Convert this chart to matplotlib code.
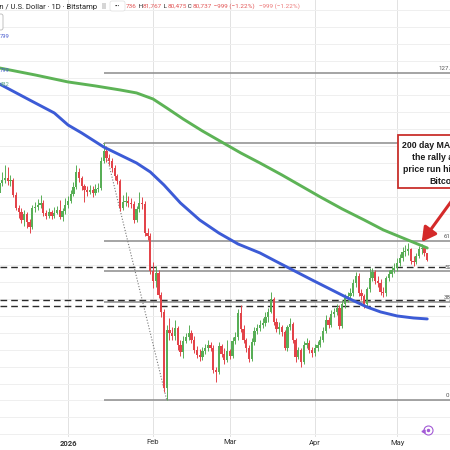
import matplotlib
matplotlib.use("Agg")
import matplotlib.pyplot as plt
import matplotlib.dates as mdates
from matplotlib.patches import Rectangle, FancyBboxPatch
import numpy as np
import pandas as pd

plt.rcParams["font.family"] = ["Roboto", "DejaVu Sans"]

# BTC/USD daily candles (Bitstamp), prices in thousands of USD, 2025-12-06 .. 2026-05-12.
# Crypto trades 24/7, so each open is the previous close.
start_date = "2025-12-06"
first_open = 90.12
close = [
    90.57, 92.04, 92.48, 92.77, 92.33, 92.48, 90.27,
    88.36, 87.77, 86.59, 87.47, 86.29, 85.56, 88.36,
    88.50, 88.80, 89.09, 87.62, 87.18, 87.77, 87.18,
    87.62, 88.06, 87.03, 87.91, 88.80, 89.39, 90.42,
    91.45, 93.66, 92.77, 91.60, 91.01, 90.71, 91.01,
    90.57, 91.15, 91.30, 95.28, 96.75, 95.72, 95.28,
    94.25, 93.07, 92.33, 88.36, 89.24, 89.39, 89.09,
    88.95, 86.59, 88.21, 89.09, 88.95, 84.67, 84.23,
    79.08, 77.60, 78.78, 75.54, 73.04, 61.84, 70.39,
    69.94, 69.50, 70.68, 68.18, 67.14, 68.77, 69.35,
    69.94, 68.91, 67.44, 66.70, 66.41, 67.29, 67.73,
    68.18, 67.73, 64.49, 64.20, 68.03, 66.85, 65.97,
    67.29, 66.56, 68.77, 69.35, 72.89, 70.53, 68.91,
    67.73, 66.11, 68.62, 70.24, 70.68, 71.12, 71.42,
    72.30, 73.04, 74.95, 71.56, 70.53, 70.83, 70.09,
    67.73, 70.83, 71.27, 68.91, 66.41, 67.44, 65.67,
    68.18, 68.47, 67.44, 67.00, 67.73, 68.18, 68.91,
    70.24, 71.86, 71.12, 72.74, 73.04, 73.63, 70.97,
    74.21, 75.10, 75.39, 75.84, 77.31, 78.34, 75.84,
    75.39, 74.21, 76.42, 78.05, 78.93, 77.60, 77.31,
    75.98, 75.84, 78.05, 78.63, 79.22, 79.52, 80.25,
    80.99, 81.87, 82.02, 82.32, 80.55, 80.40, 81.29,
    82.32, 82.46, 81.74, 80.74,
]
high = [
    91.30, 92.48, 93.66, 94.69, 94.40, 93.22, 92.77,
    90.71, 88.80, 88.36, 88.06, 87.77, 86.74, 88.80,
    89.24, 89.68, 90.27, 89.53, 88.06, 88.36, 88.06,
    88.50, 88.65, 89.53, 88.36, 89.83, 90.12, 91.01,
    92.19, 94.69, 94.25, 93.07, 91.89, 91.60, 91.74,
    91.60, 91.89, 92.04, 95.87, 97.93, 97.49, 96.31,
    95.72, 94.69, 93.36, 92.63, 90.27, 90.71, 90.12,
    89.83, 89.39, 88.65, 90.71, 89.98, 89.39, 85.41,
    84.67, 80.40, 79.81, 79.22, 75.98, 73.48, 71.12,
    72.15, 70.83, 71.86, 70.97, 68.91, 69.50, 69.94,
    71.12, 70.39, 69.50, 68.03, 67.59, 67.88, 68.32,
    68.91, 68.62, 68.18, 64.94, 68.62, 68.32, 67.73,
    68.91, 67.59, 69.35, 70.09, 73.48, 74.07, 71.12,
    69.21, 68.18, 69.21, 70.83, 71.27, 71.86, 72.15,
    73.04, 73.63, 75.98, 75.25, 72.15, 71.56, 71.12,
    70.39, 71.12, 72.15, 71.56, 69.21, 67.88, 67.73,
    68.77, 69.21, 68.91, 67.88, 68.32, 68.77, 69.50,
    70.83, 72.59, 72.30, 73.33, 73.63, 74.21, 74.07,
    74.80, 75.69, 75.98, 76.57, 77.90, 78.93, 78.78,
    76.42, 75.69, 76.72, 79.52, 79.52, 79.22, 78.34,
    77.90, 76.72, 78.34, 79.22, 79.81, 80.25, 80.99,
    81.58, 82.61, 82.91, 83.20, 82.46, 81.29, 81.73,
    82.76, 83.05, 82.76, 81.77,
]
low = [
    89.98, 90.27, 91.60, 92.04, 91.74, 91.60, 89.98,
    88.06, 86.88, 86.15, 85.70, 85.41, 84.67, 85.26,
    87.77, 88.06, 88.36, 87.18, 86.74, 86.88, 86.74,
    86.88, 87.47, 86.74, 86.44, 87.47, 88.36, 89.09,
    90.12, 91.15, 92.19, 91.01, 89.24, 90.12, 90.42,
    89.98, 90.27, 90.71, 91.01, 94.98, 95.13, 94.69,
    93.66, 92.48, 91.89, 87.91, 88.06, 88.65, 88.50,
    88.36, 86.15, 86.29, 87.77, 88.21, 84.23, 83.64,
    78.63, 76.57, 76.72, 75.10, 72.30, 61.25, 60.07,
    68.91, 68.91, 68.91, 67.44, 66.56, 66.26, 68.47,
    68.91, 68.47, 67.00, 66.26, 65.82, 65.97, 66.85,
    67.29, 67.29, 64.05, 62.73, 63.90, 66.41, 65.38,
    65.67, 66.11, 66.26, 68.32, 68.91, 70.09, 68.47,
    67.14, 65.67, 65.82, 68.18, 69.80, 70.24, 70.68,
    70.97, 71.56, 72.89, 71.12, 70.09, 69.80, 69.50,
    67.44, 67.29, 70.39, 68.47, 65.67, 66.11, 64.94,
    65.38, 67.73, 67.00, 66.41, 66.56, 67.29, 67.88,
    68.62, 69.94, 70.68, 70.83, 72.30, 72.59, 70.53,
    70.68, 73.63, 74.51, 74.80, 75.39, 76.72, 75.39,
    74.80, 73.63, 73.92, 75.98, 77.60, 77.16, 76.72,
    75.54, 75.25, 75.39, 77.60, 78.19, 78.78, 79.08,
    79.81, 80.55, 81.29, 81.43, 80.11, 79.81, 80.11,
    80.99, 81.58, 81.29, 80.48,
]

# moving averages (thousands of USD)
ma200_dates = ["2025-12-07", "2025-12-20", "2026-01-01", "2026-01-11", "2026-01-20", "2026-01-26",
               "2026-02-01", "2026-02-06", "2026-02-12", "2026-02-19", "2026-02-26", "2026-03-05",
               "2026-03-12", "2026-03-20", "2026-03-27", "2026-04-03", "2026-04-11", "2026-04-19",
               "2026-04-26", "2026-05-04", "2026-05-12"]
ma200 = [108.98, 107.95, 106.92, 106.33, 105.74, 105.30, 104.41, 103.09, 101.46, 99.70, 98.08,
         96.46, 94.98, 93.22, 91.60, 89.98, 88.21, 86.59, 85.12, 83.79, 82.46]
ma100_dates = ["2025-12-07", "2025-12-18", "2025-12-27", "2026-01-01", "2026-01-06", "2026-01-14",
               "2026-01-20", "2026-01-26", "2026-01-31", "2026-02-05", "2026-02-11", "2026-02-18",
               "2026-02-25", "2026-03-04", "2026-03-12", "2026-03-19", "2026-03-31", "2026-04-13",
               "2026-04-20", "2026-04-25", "2026-05-01", "2026-05-07", "2026-05-12"]
ma100 = [106.62, 104.26, 102.35, 100.58, 99.40, 97.34, 96.16, 94.98, 93.66, 91.74, 89.09, 86.59,
         84.67, 83.05, 81.73, 80.25, 77.75, 75.10, 73.77, 73.04, 72.45, 72.15, 72.01]

# fibonacci retracement anchors and extra support lines
swing_high_date, swing_high = "2026-01-14", 97.93
swing_low_date, swing_low = "2026-02-06", 60.07
fib_ratios = [0.0, 0.382, 0.5, 0.618, 1.0, 1.272]
fib_text = {0.0: "0", 0.382: "38.2", 0.5: "50", 0.618: "61.8", 1.272: "127.2"}
dashed_levels = [79.71, 74.85, 73.90]

month_ticks = ["2026-01-01", "2026-02-01", "2026-03-01", "2026-04-01", "2026-05-01"]
month_labels = ["2026", "Feb", "Mar", "Apr", "May"]

GREEN_C = "#58ae56"
RED_C = "#e3444a"

fig = plt.figure(figsize=(4.5, 4.5), dpi=100, facecolor="white")
ax = fig.add_axes([0, 13 / 450, 1, 437 / 450])
ax.set_facecolor("white")
for s in ax.spines.values():
    s.set_visible(False)

jan1 = mdates.date2num(pd.Timestamp("2026-01-01"))
xmin, xmax = jan1 - 24.8, jan1 + 139.3
ax.set_xlim(xmin, xmax)
ax.set_ylim(54.62, 118.99)

# grid
ax.set_yticks(np.arange(55, 118.6, 2.5))
ax.set_yticklabels([])
ax.set_xticks(mdates.date2num(pd.to_datetime(month_ticks)))
ax.set_xticklabels(month_labels)
ax.tick_params(axis="both", length=0)
ax.tick_params(axis="x", pad=1.8, labelsize=5.5, labelcolor="#333333")
ax.get_xticklabels()[0].set_fontweight("bold")
ax.grid(axis="y", color="#efefef", lw=0.7, zorder=0)
ax.grid(axis="x", color="#e2e2e2", lw=0.7, zorder=0)
ax.set_axisbelow(True)

# candles
dates = pd.date_range(start_date, periods=len(close), freq="D")
x = mdates.date2num(dates)
c = np.array(close)
h = np.array(high)
l = np.array(low)
o = np.concatenate([[first_open], c[:-1]])
cols = np.where(c >= o, GREEN_C, RED_C)
ax.vlines(x, l, h, colors=cols, lw=0.7, zorder=3)
ax.bar(x, np.maximum(np.abs(c - o), 0.12), bottom=np.minimum(o, c), width=0.82,
       color=cols, lw=0, zorder=3)

# fib levels
fx0 = mdates.date2num(pd.Timestamp(swing_high_date))
fx1 = mdates.date2num(pd.Timestamp(swing_low_date))
rng = swing_high - swing_low
label_x = {0.0: 446 / 450, 0.382: 444 / 450, 0.5: 444.5 / 450, 0.618: 443.5 / 450, 1.272: 438 / 450}
for r in fib_ratios:
    lvl = swing_low + r * rng
    ax.hlines(lvl, fx0, xmax, color="#8c8c8c", lw=1.1, zorder=2)
    if r in fib_text:
        ax.annotate(fib_text[r], xy=(label_x[r], lvl), xycoords=("axes fraction", "data"),
                    xytext=(0, 1.2), textcoords="offset points", va="bottom", ha="left",
                    fontsize=4.4, color="#555555", annotation_clip=False)
ax.plot([fx0, fx1], [swing_high, swing_low], color="#777777", lw=0.8,
        linestyle=(0, (1, 1.6)), zorder=2)

for lvl in dashed_levels:
    ax.axhline(lvl, color="#2b2b2b", lw=1.0, linestyle=(0, (4.8, 2.9)), zorder=2)

# moving averages
ax.plot(mdates.date2num(pd.to_datetime(ma200_dates)), ma200, color="#5db356", lw=2.1,
        solid_capstyle="round", solid_joinstyle="round", zorder=4)
ax.plot(mdates.date2num(pd.to_datetime(ma100_dates)), ma100, color="#3c5bd6", lw=2.1,
        solid_capstyle="round", solid_joinstyle="round", zorder=4)

# overlay in pixel coordinates for header and callout
ov = fig.add_axes([0, 0, 1, 1], zorder=5)
ov.set_xlim(0, 450)
ov.set_ylim(450, 0)
ov.axis("off")
ov.patch.set_alpha(0)

ov.text(97, 6.5, "Bitcoin / U.S. Dollar · 1D · Bitstamp", ha="right", va="center",
        fontsize=5.5, color="#222222")
ov.add_patch(Rectangle((102, 3), 4, 6, fc="#d6d6d6", ec="none"))
ov.add_patch(FancyBboxPatch((110, 1), 15, 10, boxstyle="round,pad=0,rounding_size=2",
                            fc="white", ec="#dddddd", lw=0.5, zorder=6))
ov.text(117.5, 6.3, "•••", ha="center", va="center", fontsize=3.6, color="#333333", zorder=7)

# OHLC readout; the start of the open value sits under the menu button
t = ov.text(126, 6.5, "736", ha="left", va="center", fontsize=4.6, color="#e25555", zorder=3)
prev = t
for txt, colr in [(" H", "#222222"), ("81,767", "#e25555"), (" L", "#222222"), ("80,475", "#e25555"),
                  (" C", "#222222"), ("80,737", "#e25555"), (" \u2212999 (\u22121.22%)", "#e25555"),
                  ("   \u2212999 (\u22121.22%)", "#ec7a7a")]:
    prev = ov.annotate(txt, xy=(1, 0), xycoords=prev, ha="left", va="bottom",
                       fontsize=4.6, color=colr)

ov.add_patch(FancyBboxPatch((-6, 14), 9, 16, boxstyle="round,pad=0,rounding_size=2",
                            fc="white", ec="#b8b8b8", lw=0.6))
ov.text(0.3, 37, "799", fontsize=4.2, color="#4b5ed0", va="center")
ov.text(0.3, 71, "799", fontsize=4.2, color="#4b5ed0", va="center")
ov.text(0.3, 84, "432", fontsize=4.2, color="#5aa88a", va="center")

# callout box
ov.add_patch(Rectangle((398, 135), 80, 53, fc="white", ec="#c9302c", lw=1.3, zorder=6))
for tx, ty, line in [(402.5, 145, "200 day MA stalls"), (411.7, 157, "the rally as the"),
                     (403.3, 169, "price run higher in"), (429, 181, "Bitcoin")]:
    ov.text(tx, ty, line, ha="left", va="center", fontsize=6.3, fontweight="bold",
            family=["Liberation Sans", "DejaVu Sans"], color="#1a1a1a", zorder=7)

tip_date, tip_price = "2026-05-10", 83.35
ov.annotate("", xy=(mdates.date2num(pd.Timestamp(tip_date)), tip_price), xycoords=ax.transData,
            xytext=(461, 188), textcoords="data",
            arrowprops=dict(arrowstyle="-|>,head_length=0.6,head_width=0.33", color="#d42a2a",
                            lw=2.2, mutation_scale=14, shrinkA=0, shrinkB=0))

# reset icon
ov.plot(428, 430, marker="o", ms=6.5, mfc="white", mec="#a35bd6", mew=0.8)
ov.plot(428, 430, marker="o", ms=1.5, color="#a35bd6")
ov.plot(423, 431, marker="<", ms=2.2, color="#a35bd6")

fig.savefig("out.png", dpi=100, facecolor="white")
